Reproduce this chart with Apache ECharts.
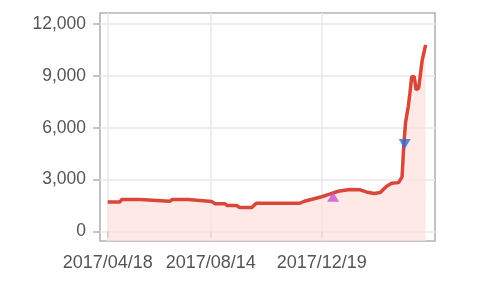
<!DOCTYPE html>
<html>
<head>
<meta charset="utf-8">
<script src="https://cdn.jsdelivr.net/npm/echarts@6/dist/echarts.min.js"></script>
<style>html,body{margin:0;padding:0;background:#fff;}#c{width:500px;height:288px;}</style>
</head>
<body>
<div id="c"></div>
<script>
var dates = ['2017-04-18','2017-05-02','2017-05-04','2017-05-25','2017-05-27','2017-06-28','2017-07-01','2017-07-19','2017-07-21','2017-08-15','2017-08-19','2017-08-30','2017-09-02','2017-09-13','2017-09-16','2017-09-30','2017-10-05','2017-11-24','2017-11-29','2017-12-08','2017-12-19','2017-12-28','2018-01-07','2018-01-20','2018-02-01','2018-02-08','2018-02-17','2018-02-24','2018-03-03','2018-03-09','2018-03-17','2018-03-21','2018-03-23','2018-03-25','2018-03-28','2018-03-30','2018-04-01','2018-04-04','2018-04-06','2018-04-09','2018-04-10','2018-04-13','2018-04-15','2018-04-17'];
var values = [1700,1700,1840,1840,1740,1740,1840,1840,1730,1720,1600,1600,1490,1490,1375,1375,1625,1625,1740,1860,2000,2150,2320,2420,2400,2280,2190,2250,2600,2780,2820,3150,5000,6300,7200,8000,8950,8950,8200,8300,8400,9900,10000,10800];
var buyDates = ['2018-01-01'];
var buyValues = [2000];
var sellDates = ['2018-03-24'];
var sellValues = [5050];
var xTickLabels = ['2017/04/18','2017/08/14','2017/12/19'];
var yTicks = [0,3000,6000,9000,12000];

var DAY = 86400000;
function ts(s){ var p = s.split(/[-\/]/); return Date.UTC(+p[0], +p[1]-1, +p[2]); }
function fmt(v){ var d = new Date(v); function z(n){ return (n<10?'0':'')+n; } return d.getUTCFullYear()+'/'+z(d.getUTCMonth()+1)+'/'+z(d.getUTCDate()); }
var start = ts(dates[0]);
var xTickVals = xTickLabels.map(ts);

var chart = echarts.init(document.getElementById('c'));
chart.setOption({
  animation: false,
  grid: {left: 100, right: 65, top: 13, bottom: 47, show: true, borderColor: '#b3b3b3', borderWidth: 1.6, backgroundColor: 'transparent'},
  xAxis: {
    type: 'value',
    min: start - 8.8*DAY,
    max: start + 374.7*DAY,
    axisLine: {show: false},
    axisTick: {show: true, length: 6, lineStyle: {color: '#b3b3b3', width: 1.5}, customValues: xTickVals},
    axisLabel: {customValues: xTickVals, margin: 13, color: '#555', fontSize: 18, fontFamily: 'Liberation Sans, Arial, sans-serif',
      formatter: fmt, hideOverlap: false},
    splitLine: {show: true, lineStyle: {color: '#e9e9e9', width: 1.5}}
  },
  yAxis: {
    type: 'value',
    min: -560, max: 12640,
    axisLine: {show: false},
    axisTick: {show: true, length: 7, lineStyle: {color: '#b3b3b3', width: 1.5}, customValues: yTicks},
    axisLabel: {customValues: yTicks, margin: 14, color: '#555', fontSize: 17.5, fontFamily: 'Liberation Sans, Arial, sans-serif',
      formatter: function(v){ return v.toLocaleString('en-US'); }},
    splitLine: {show: true, lineStyle: {color: '#e9e9e9', width: 1.5}}
  },
  series: [
    {type: 'line', data: dates.map(function(d,i){ return [ts(d), values[i]]; }), symbol: 'none',
      lineStyle: {color: '#d8473a', width: 3.5}, areaStyle: {color: '#fde0dc', origin: 'start'}, z: 2},
    {type: 'scatter', data: buyDates.map(function(d,i){ return [ts(d), buyValues[i]]; }), symbol: 'triangle', symbolSize: [12, 10],
      itemStyle: {color: '#cf4fd0'}, z: 3},
    {type: 'scatter', data: sellDates.map(function(d,i){ return [ts(d), sellValues[i]]; }), symbol: 'triangle', symbolRotate: 180, symbolSize: [12, 10],
      itemStyle: {color: '#2f6fd6'}, z: 3}
  ]
});
</script>
</body>
</html>
